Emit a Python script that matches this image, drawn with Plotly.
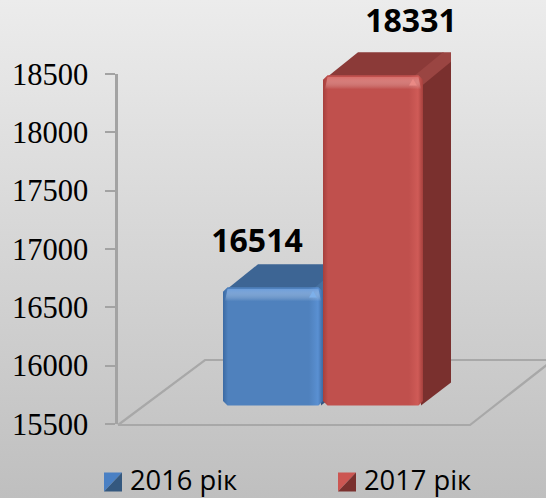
import plotly.graph_objects as go

# ---- data ----
categories = ["2016 рік", "2017 рік"]
values = [16514, 18331]
tick_values = [15500, 16000, 16500, 17000, 17500, 18000, 18500]

# ---- palette per series ----
FRONT = ["#4f81bd", "#c0504d"]
EDGE_DARK = ["#3c6aa3", "#a5403d"]
EDGE_LIGHT = ["#5a90d2", "#cf5b57"]
BAND = ["rgba(96,152,222,0.9)", "rgba(218,98,94,0.9)"]
SPOT = ["#7db0ea", "#ea8a85"]
TOP = ["#3d6594", "#8b3a38"]
SIDE = ["#345680", "#7a302e"]
BEVEL = ["#45709f", "#9a4542"]
SWATCH_LIGHT = ["#4a80c4", "#cc5652"]
SWATCH_DARK = ["#34587f", "#7a302e"]

# ---- figure geometry ----
W, H = 546, 498
AX_TOP, AX_BOTTOM, AX_LEFT = 74, 424, 118
UNITS_PER_PX = (tick_values[-1] - tick_values[0]) / (AX_BOTTOM - AX_TOP)
X_PER_PX = 0.01
CENTER_PX = 273
Y_MIN = tick_values[0] - (H - AX_BOTTOM) * UNITS_PER_PX
Y_MAX = tick_values[-1] + AX_TOP * UNITS_PER_PX


def fx(px):
    return (px - CENTER_PX) * X_PER_PX


def fy(py):
    return tick_values[0] + (AX_BOTTOM - py) * UNITS_PER_PX


LIFT = 18.5 * UNITS_PER_PX      # the bars stand forward of the axis origin
DX_L, DX_R, DY = 0.35, 0.28, 23 * UNITS_PER_PX
HALF = 0.5
RX, RY = 0.06, 6 * UNITS_PER_PX
CX, CY = 0.045, 4.5 * UNITS_PER_PX   # chamfer of the front-face corners

fig = go.Figure()


def poly(xs, ys, color=None, gradient=None):
    kw = dict(fillgradient=gradient) if gradient else dict(fillcolor=color)
    fig.add_trace(go.Scatter(x=xs, y=ys, mode="lines", fill="toself",
                             line=dict(width=0), hoverinfo="skip",
                             showlegend=False, xaxis="x", yaxis="y", **kw))


# background
poly([fx(0), fx(W), fx(W), fx(0)], [Y_MIN, Y_MIN, Y_MAX, Y_MAX],
     gradient=dict(type="vertical", start=Y_MIN, stop=Y_MAX,
                   colorscale=[[0, "#bfbfbf"], [1, "#ececec"]]))

# floor
fl = [(118, 425), (470, 425), (553, 360), (205, 360), (118, 425)]
fig.add_trace(go.Scatter(x=[fx(p[0]) for p in fl], y=[fy(p[1]) for p in fl],
                         mode="lines", line=dict(color="#a8a8a8", width=2.2),
                         hoverinfo="skip", showlegend=False,
                         xaxis="x", yaxis="y"))

base = tick_values[0] + LIFT

for i, v in enumerate(values):
    top = v + LIFT
    L, R = i - HALF, i + HALF
    # right side
    poly([R - 0.02, R + DX_R, R + DX_R, R - 0.02],
         [base, base + DY, top + DY - RY, top], SIDE[i])
    # top
    poly([L + 0.02, L + DX_L, R + DX_R - 0.08, R + DX_R, R],
         [top - RY * 0.6, top + DY, top + DY, top + DY - RY, top - RY * 0.2], TOP[i])
    # bevel toward the back right corner
    poly([R - 0.08, R + DX_R - 0.08, R + DX_R, R + DX_R, R],
         [top, top + DY, top + DY, top + DY - RY * 1.6, top - RY * 1.6], BEVEL[i])
    # front face
    fig.add_trace(go.Bar(x=[i], y=[v - tick_values[0]], base=[base], width=[1],
                         marker=dict(color=FRONT[i], line=dict(width=0),
                                     cornerradius=6),
                         hoverinfo="skip", showlegend=False,
                         xaxis="x", yaxis="y"))
    # horizontal shading on the front
    poly([L + CX, R - CX, R, R, R - CX, L + CX, L, L],
         [base, base, base + CY, top - CY, top, top, top - CY, base + CY],
         gradient=dict(type="horizontal", start=L, stop=R,
                       colorscale=[[0, EDGE_DARK[i]], [0.05, FRONT[i]],
                                   [0.86, FRONT[i]], [0.95, EDGE_LIGHT[i]],
                                   [1, EDGE_DARK[i]]]))
    # bevel band along the top
    band_bottom = top - 14 * UNITS_PER_PX
    poly([L + 0.02, R - 0.02, R - CX, L + CX],
         [band_bottom, band_bottom, top - 0.3 * RY, top - 0.3 * RY],
         gradient=dict(type="vertical", start=band_bottom, stop=top,
                       colorscale=[[0, "rgba(255,255,255,0)"], [1, BAND[i]]]))
    # highlight at the front top right corner
    poly([R - 0.14, R - 0.10, R - 0.06],
         [top - 1.7 * RY, top - 0.6 * RY, top - 1.7 * RY], SPOT[i])

# data labels
label_dx = [-0.16, 0.38]
label_dy = [20 * UNITS_PER_PX, 28 * UNITS_PER_PX]
fig.add_trace(go.Scatter(
    x=[i + label_dx[i] for i in range(len(values))],
    y=[v + LIFT + DY + label_dy[i] for i, v in enumerate(values)],
    mode="text", text=[str(v) for v in values], textposition="middle center",
    textfont=dict(family="Open Sans", size=32, color="#000000", weight="bold"),
    hoverinfo="skip", showlegend=False, cliponaxis=False, xaxis="x", yaxis="y"))

# legend
swatch_px = [104, 338]
text_px = [130, 364]
S_T, S_B, S_W = 472.5, 491.5, 18
for i, name in enumerate(categories):
    x0 = fx(swatch_px[i])
    x1 = fx(swatch_px[i] + S_W)
    poly([x0, x1, x0], [fy(S_T), fy(S_T), fy(S_B)], SWATCH_LIGHT[i])
    poly([x1, x1, x0], [fy(S_T), fy(S_B), fy(S_B)], SWATCH_DARK[i])
    fig.add_annotation(x=fx(text_px[i]), y=fy(479.5), xref="x", yref="y",
                       text=name, showarrow=False, xanchor="left",
                       yanchor="middle", xshift=-2,
                       font=dict(family="Open Sans", size=27.3, color="#000000"))

# visible value axis
fig.add_trace(go.Scatter(x=[0], y=[tick_values[0]], mode="none", hoverinfo="skip",
                         showlegend=False, xaxis="x2", yaxis="y2"))

fig.update_layout(
    width=W, height=H, margin=dict(l=0, r=0, t=0, b=0, autoexpand=False),
    paper_bgcolor="#d4d4d4", plot_bgcolor="rgba(0,0,0,0)",
    barmode="overlay", showlegend=False,
    xaxis=dict(domain=[0, 1], range=[fx(0), fx(W)], visible=False, fixedrange=True),
    yaxis=dict(domain=[0, 1], range=[Y_MIN, Y_MAX], visible=False, fixedrange=True),
    xaxis2=dict(domain=[AX_LEFT / W, 1], range=[0, 1], visible=False, anchor="y2"),
    yaxis2=dict(domain=[(H - AX_BOTTOM) / H, (H - AX_TOP) / H],
                range=[tick_values[0], tick_values[-1]], anchor="x2",
                tickmode="array", tickvals=tick_values,
                ticktext=[str(t) for t in tick_values],
                showline=True, linecolor="#a3a3a3", linewidth=2.5,
                ticks="outside", ticklen=10, tickwidth=2, tickcolor="#a3a3a3",
                ticklabelstandoff=11, showgrid=False, zeroline=False,
                tickfont=dict(family="Liberation Serif", size=30.5, color="#000000")),
)

fig.write_html("out.html", config=dict(displayModeBar=False),
               post_script="document.body.style.margin='0';document.body.style.overflow='hidden';")
